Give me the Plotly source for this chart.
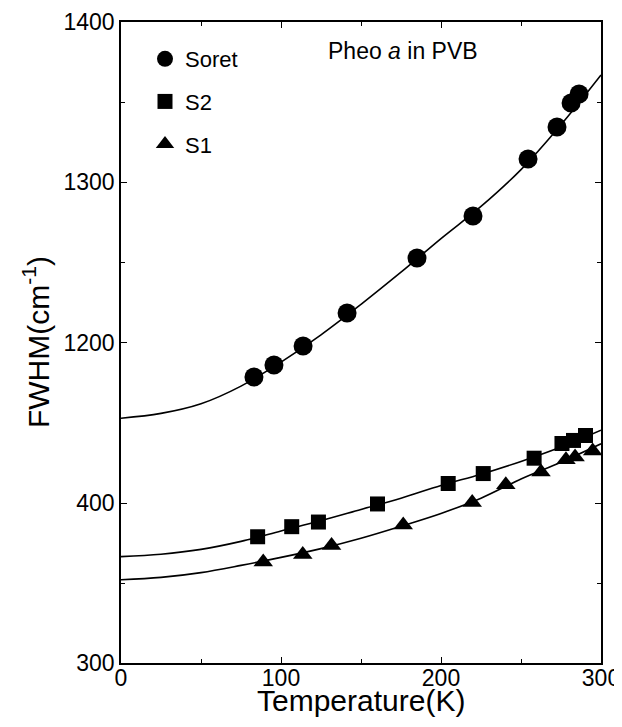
import plotly.graph_objects as go

# ---- data ----
soret_T = [83.1, 95.6, 113.8, 141.3, 185.0, 220.0, 254.4, 272.5, 281.3, 286.3]
soret_W = [1178.7, 1186.2, 1198.0, 1218.6, 1252.9, 1279.0, 1314.6, 1334.5, 1349.5, 1355.1]

s2_T = [85.4, 106.7, 123.4, 160.3, 204.5, 226.4, 258.2, 275.6, 282.8, 290.3]
s2_W = [378.9, 385.2, 388.1, 399.4, 412.2, 418.4, 428.0, 437.2, 439.1, 442.2]

s1_T = [88.9, 113.6, 131.6, 176.4, 219.5, 240.5, 262.5, 278.1, 283.8, 294.8]
s1_W = [363.1, 367.8, 373.4, 386.3, 400.3, 411.4, 419.4, 427.1, 428.8, 432.5]

# fitted curves
fit_T = [0, 25, 50, 75, 100, 125, 150, 175, 200, 225, 250, 275, 300]
soret_fit = [1153, 1156, 1162, 1173, 1188, 1205, 1224, 1244, 1265, 1285, 1308, 1336, 1367]
s2_fit = [366.5, 368, 371, 376, 382.5, 389, 396, 403, 411, 418, 426, 435, 445.5]
s1_fit = [352, 353.5, 356.5, 361, 366, 371.5, 378, 385.5, 393.5, 403, 415, 425.5, 437]

x_ticks = [0, 100, 200, 300]
y_low_ticks = [300, 400]
y_high_ticks = [1200, 1300, 1400]

FONT = "Liberation Sans, Arial, Helvetica, sans-serif"
BLACK = "black"

fig = go.Figure()

# fit lines
fig.add_trace(go.Scatter(x=fit_T, y=soret_fit, mode="lines", line=dict(color=BLACK, width=1.6, shape="spline"),
                         xaxis="x2", yaxis="y2", showlegend=False, hoverinfo="skip"))
fig.add_trace(go.Scatter(x=fit_T, y=s2_fit, mode="lines", line=dict(color=BLACK, width=1.6, shape="spline"),
                         showlegend=False, hoverinfo="skip"))
fig.add_trace(go.Scatter(x=fit_T, y=s1_fit, mode="lines", line=dict(color=BLACK, width=1.6, shape="spline"),
                         showlegend=False, hoverinfo="skip"))

# markers
fig.add_trace(go.Scatter(x=soret_T, y=soret_W, mode="markers", name="Soret",
                         marker=dict(symbol="circle", size=19, color=BLACK),
                         xaxis="x2", yaxis="y2", legendgroup="a"))
fig.add_trace(go.Scatter(x=s2_T, y=s2_W, mode="markers", name="S2",
                         marker=dict(symbol="square", size=15, color=BLACK), legendgroup="b"))
fig.add_trace(go.Scatter(x=s1_T, y=s1_W, mode="markers", name="S1",
                         marker=dict(symbol="triangle-up", size=17, color=BLACK), legendgroup="c"))

split = 240 / 641

axis_common = dict(showline=True, linecolor=BLACK, linewidth=1.5, ticks="inside", ticklen=6,
                   tickwidth=1.2, tickcolor=BLACK, showgrid=False, zeroline=False, automargin=False,
                   tickfont=dict(family=FONT, size=23, color=BLACK))

# the page body has an 8px margin, so the figure is sized to fit the 622x727 window
fig.update_layout(
    width=614, height=719,
    margin=dict(l=113, r=21, t=14, b=64),
    paper_bgcolor="white", plot_bgcolor="white",
    font=dict(family=FONT, color=BLACK),
    xaxis=dict(range=[0, 300], tickvals=x_ticks, anchor="y", domain=[0, 1], ticklabelstandoff=-6,
               minor=dict(dtick=50, ticks="inside", ticklen=4, tickcolor=BLACK),
               **axis_common),
    xaxis2=dict(range=[0, 300], tickvals=x_ticks, anchor="y2", matches="x", side="top",
                showticklabels=False,
                minor=dict(dtick=50, ticks="inside", ticklen=4, tickcolor=BLACK),
                **axis_common),
    yaxis=dict(range=[300, 450], tickvals=y_low_ticks, domain=[0, split], anchor="x", mirror="ticks",
               minor=dict(dtick=50, ticks="inside", ticklen=4, tickcolor=BLACK),
               **axis_common),
    yaxis2=dict(range=[1150, 1400], tickvals=y_high_ticks, domain=[split, 1], anchor="x2", mirror="ticks",
                minor=dict(dtick=50, ticks="inside", ticklen=4, tickcolor=BLACK),
                **axis_common),
    legend=dict(x=0.05, y=0.975, xanchor="left", yanchor="top", bgcolor="rgba(0,0,0,0)",
                font=dict(family=FONT, size=22, color=BLACK), traceorder="grouped",
                tracegroupgap=11, itemsizing="trace"),
    annotations=[
        dict(text="FWHM(cm<sup>-1</sup>)", xref="paper", yref="paper", x=-0.178, y=0.5,
             textangle=-90, showarrow=False, font=dict(family=FONT, size=30, color=BLACK),
             xanchor="center", yanchor="middle"),
        dict(text="Temperature(K)", xref="paper", yref="paper", x=0.5, y=-0.059,
             showarrow=False, font=dict(family=FONT, size=30, color=BLACK),
             xanchor="center", yanchor="middle"),
        dict(text="Pheo <i>a</i> in PVB", xref="x2", yref="y2", x=128, y=1382,
             showarrow=False, xanchor="left", yanchor="middle",
             font=dict(family=FONT, size=23, color=BLACK)),
    ],
)

fig.write_html("out.html")
